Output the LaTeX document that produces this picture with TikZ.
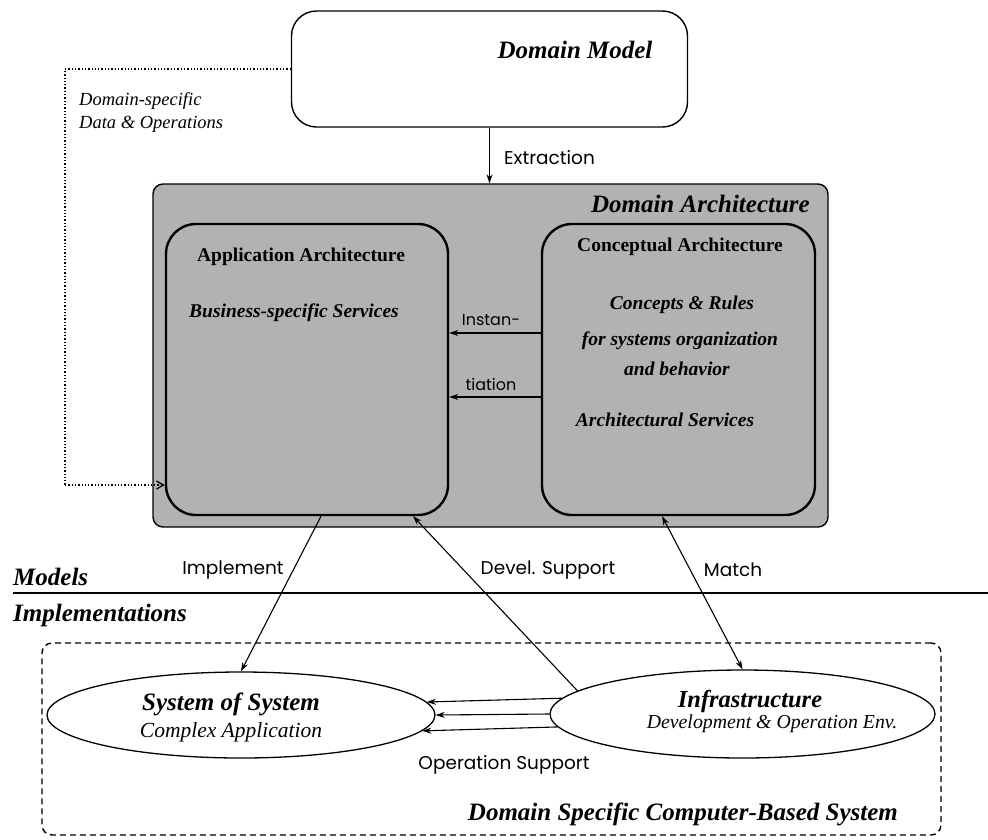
\documentclass[tikz,border=0pt]{standalone}
\usepackage{fontspec}
\setmainfont{Liberation Serif}
\newfontfamily\gothic{Poppins}
\usetikzlibrary{arrows.meta,shapes.geometric}
\tikzset{
  box/.style={draw, line width=1.4pt, rectangle},
  innerbox/.style={draw, line width=2.4pt, rectangle, rounded corners=30pt, minimum width=282pt, minimum height=291pt},
  oval/.style={draw, line width=1.3pt, ellipse, inner sep=0pt},
  conn/.style={line width=1.1pt, -{Stealth[length=9pt,width=6pt]}},
  lab/.style={font=\gothic\fontsize{18.5}{21}\selectfont, inner sep=0pt},
  smlab/.style={font=\gothic\fontsize{16}{18}\selectfont, inner sep=0pt},
  ttl/.style={font=\bfseries\itshape\fontsize{25}{28}\selectfont, inner sep=0pt},
  sub/.style={font=\bfseries\fontsize{19.5}{22}\selectfont, inner sep=0pt},
  subit/.style={font=\bfseries\itshape\fontsize{19.5}{22}\selectfont, inner sep=0pt},
}
\begin{document}
\begin{tikzpicture}[x=1pt,y=-1pt]
\useasboundingbox (0,0) rectangle (988,839);

% boxes
\node[box, rounded corners=25pt, minimum width=396pt, minimum height=116pt] (dm) at (489.5,69) {};
\node[box, rounded corners=10pt, fill=black!30, minimum width=675pt, minimum height=343pt] (da) at (490.5,355.5) {};
\node[innerbox] (aa) at (307,369.5) {};
\node[innerbox, minimum width=273pt] (ca) at (678.5,369.5) {};
\node[draw, dashed, line width=1.4pt, dash pattern=on 6pt off 4pt, rounded corners=10pt, minimum width=899pt, minimum height=192pt] (ds) at (491.5,739) {};
\node[oval, minimum width=388pt, minimum height=86pt] (sos) at (241,715) {};
\node[oval, minimum width=385pt, minimum height=88pt] (inf) at (742.5,714) {};

% texts
\node[ttl] (tdm) at (575,50) {Domain Model};
\node[font=\itshape\fontsize{18.5}{23}\selectfont, anchor=west, align=left, inner sep=0pt] (tds) at (79,112) {Domain-specific\\Data \& Operations};
\node[lab, anchor=west] (text) at (504,158) {Extraction};
\node[ttl, anchor=east] (tda) at (810,204) {Domain Architecture};
\node[sub] (taa) at (301,257) {Application Architecture};
\node[subit] (tbs) at (294,313) {Business-specific Services};
\node[sub] (tca) at (680,247) {Conceptual Architecture};
\node[subit] (tcr) at (682,305) {Concepts \& Rules};
\node[subit] (tso) at (680,341) {for systems organization};
\node[subit] (tab) at (677,369) {and behavior};
\node[subit] (tas) at (665,420) {Architectural Services};
\node[smlab] (tin1) at (491,320) {Instan-};
\node[smlab] (tin2) at (491,384) {tiation};
\node[lab] (timp) at (233,570) {Implement};
\node[lab] (tdev) at (548,570) {Devel. Support};
\node[lab] (tmat) at (733,570) {Match};
\node[ttl, anchor=west] (tmod) at (13,577) {Models};
\node[ttl, anchor=west] (timpl) at (13,615) {Implementations};
\node[font=\bfseries\itshape\fontsize{25}{28}\selectfont, inner sep=0pt] (tsos) at (231,704) {System of System};
\node[font=\itshape\fontsize{21.5}{24}\selectfont, inner sep=0pt] (tcx) at (231,732) {Complex Application};
\node[font=\bfseries\itshape\fontsize{24.5}{27}\selectfont, inner sep=0pt] (tinf) at (750,701) {Infrastructure};
\node[font=\itshape\fontsize{19.8}{22}\selectfont, inner sep=0pt] (tdev2) at (772,724) {Development \& Operation Env.};
\node[lab] (tops) at (504,765) {Operation Support};
\node[ttl, anchor=east] (tdcs) at (898,814) {Domain Specific Computer-Based System};

% separator line
\coordinate (ml) at (13,593);
\coordinate (mr) at (988,593);
\draw[line width=1.4pt] (ml) -- (mr);

% connectors
\draw[conn] (dm.south) -- (dm.south |- da.north);
\coordinate (dc1) at (65,69);
\coordinate (dc2) at (65,485);
\draw[dotted, line width=1.3pt] (dm.west) -- (dc1) -- (dc2);
\draw[dotted, line width=1.3pt, -{Straight Barb[length=7pt,width=8pt]}] (dc2) -- (dc2 -| aa.west);
\draw[conn] (ca.west |- 0,333) -- (aa.east |- 0,333);
\draw[conn] (ca.west |- 0,397) -- (aa.east |- 0,397);
\draw[conn] (aa.south -| 321,0) -- (sos.north);
\draw[conn] (inf.172.5) -- (aa.south -| 413,0);
\draw[conn, {Stealth[length=9pt,width=6pt]}-{Stealth[length=9pt,width=6pt]}] (ca.south -| 662,0) -- (inf.north);
\draw[conn] (inf.175.96) -- (sos.4.37);
\draw[conn] (inf.west) -- (sos.east);
\draw[conn] (inf.184.04) -- (sos.355.63);
\end{tikzpicture}
\end{document}
